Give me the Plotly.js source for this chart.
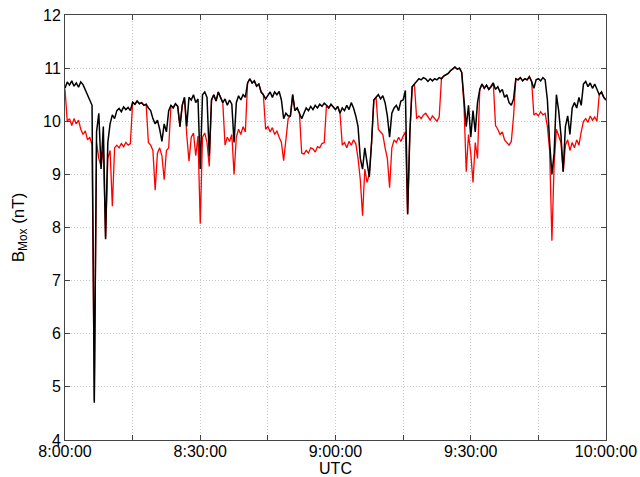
<!DOCTYPE html>
<html>
<head>
<meta charset="utf-8">
<script src="https://cdn.plot.ly/plotly-3.0.1.min.js"></script>
<style>html,body{margin:0;padding:0;background:#fff;}#chart{width:640px;height:477px;}</style>
</head>
<body>
<div id="chart"></div>
<script>
// Sampling: one value every 30 s from 08:00:00 to 10:00:00 (241 samples)
const startTime = "08:00:00";
const sampleSeconds = 30;

// Black trace (B_Mox, black curve)
const blackValues = [
  10.62, 10.74, 10.68, 10.76, 10.66, 10.72, 10.64, 10.74, 10.69, 10.6,
  10.5, 10.42, 10.3, 4.7, 9.8, 10.15, 9.1, 9.9, 7.78, 9.6,
  9.95, 10.12, 10.05, 10.2, 10.24, 10.18, 10.27, 10.22, 10.26, 10.2,
  10.36, 10.32, 10.38, 10.33, 10.35, 10.3, 10.32, 10.25, 10.2, 10.05,
  9.95, 10.02, 9.85, 9.62, 9.95, 9.8, 10.2, 10.3, 10.25, 10.33,
  10.28, 9.9, 10.3, 10.45, 9.9, 10.45, 10.4, 10.5, 10.35, 10.42,
  9.1, 10.5, 10.55, 10.45, 9.35, 10.4, 10.5, 10.38, 10.55, 10.45,
  10.35, 10.42, 10.3, 10.4, 10.32, 9.6, 10.35, 10.48, 10.4, 10.5,
  10.45, 10.72, 10.8, 10.72, 10.76, 10.66, 10.7, 10.55, 10.5, 10.42,
  10.5, 10.55, 10.45, 10.55, 10.5, 10.56, 10.4, 10.05, 10.15, 10.1,
  10.1, 10.5, 10.2, 10.25, 10.15, 10.05, 10.15, 10.25, 10.2, 10.28,
  10.22, 10.3, 10.25, 10.32, 10.28, 10.34, 10.3, 10.25, 10.32, 10.26,
  10.22, 10.28, 10.15, 10.25, 10.2, 10.3, 10.22, 10.35, 10.25, 10.1,
  9.9, 9.3, 9.1, 9.5, 9.2, 8.95, 9.6, 10.4, 10.45, 10.5,
  10.42, 10.48, 10.35, 10.1, 9.7, 10.15, 10.25, 10.3, 10.2, 10.38,
  10.4, 10.58, 8.25, 9.8, 10.65, 10.7, 10.75, 10.8, 10.78, 10.82,
  10.8, 10.75, 10.8, 10.76, 10.8, 10.78, 10.82, 10.8, 10.85, 10.88,
  10.9, 10.95, 10.98, 11.02, 10.98, 11.0, 10.92, 10.4, 9.9, 10.3,
  9.7, 10.2, 9.8, 10.35, 10.6, 10.7, 10.62, 10.68, 10.6, 10.65,
  10.72, 10.6, 10.65, 10.55, 10.6, 10.45, 10.5, 10.35, 10.3, 10.42,
  10.8, 10.78, 10.82, 10.76, 10.8, 10.78, 10.84, 10.75, 10.62, 10.78,
  10.8, 10.76, 10.82, 10.78, 10.4, 9.6, 9.0, 9.4, 10.5, 10.2,
  9.75, 9.05, 9.9, 10.1, 9.75, 10.25, 10.35, 10.25, 10.45, 10.3,
  10.7, 10.75, 10.65, 10.72, 10.62, 10.7, 10.6, 10.5, 10.55, 10.45,
  10.4
];

// Red trace (B_Mox, red curve)
const redValues = [
  10.6, 10.0, 10.05, 9.92, 10.05, 9.95, 10.02, 9.85, 9.75, 9.82,
  9.65, 9.7, 9.55, 4.75, 9.6, 9.3, 9.15, 9.5, 7.8, 9.3,
  9.45, 8.4, 9.5, 9.55, 9.5, 9.58, 9.52, 9.6, 9.55, 9.58,
  10.36, 10.32, 10.38, 10.33, 10.35, 10.3, 10.32, 9.6, 9.55, 9.45,
  8.7, 9.4, 9.5, 9.35, 8.9, 9.45, 9.5, 10.3, 10.25, 10.33,
  10.28, 9.9, 10.3, 10.45, 9.75, 9.25, 9.7, 9.78, 9.35, 9.72,
  8.07, 9.7, 9.78, 9.6, 9.15, 10.4, 10.5, 10.38, 10.55, 10.45,
  10.35, 9.55, 9.7, 9.62, 9.75, 9.0, 9.7, 9.85, 9.75, 9.9,
  9.8, 10.72, 10.8, 10.72, 10.76, 10.66, 10.7, 10.55, 10.5, 9.85,
  9.9, 9.8, 9.88, 9.75, 9.82, 9.7, 9.6, 9.26, 9.7, 10.05,
  10.1, 10.5, 10.2, 10.25, 10.15, 9.4, 9.38, 9.45, 9.4, 9.5,
  9.48, 9.42, 9.52, 9.5, 9.58, 9.6, 10.3, 10.25, 10.32, 10.26,
  10.22, 10.28, 10.15, 9.55, 9.6, 9.5, 9.62, 9.55, 9.65, 9.58,
  9.3, 8.9, 8.22, 9.1, 8.85, 9.0, 9.6, 10.4, 10.45, 9.85,
  9.8, 9.75, 9.5, 9.3, 8.75, 9.5, 9.65, 9.6, 9.7, 9.62,
  9.72, 9.8, 8.25, 9.8, 10.65, 10.7, 10.05, 10.1, 10.05, 10.12,
  10.15, 10.08, 10.02, 10.1, 10.05, 10.0, 10.08, 10.8, 10.85, 10.88,
  10.9, 10.95, 10.98, 11.02, 10.98, 11.0, 10.92, 10.3, 9.05, 9.75,
  9.4, 8.85, 9.6, 9.3, 10.6, 10.7, 10.62, 10.68, 10.6, 10.65,
  10.72, 9.92, 9.85, 9.75, 9.8, 9.65, 9.6, 9.55, 9.62, 10.1,
  10.8, 10.78, 10.82, 10.76, 10.8, 10.78, 10.84, 10.75, 10.12, 10.15,
  10.1, 10.18, 10.12, 10.15, 9.9, 9.45, 7.75, 9.2, 9.85, 9.7,
  9.6, 9.05, 9.55, 9.65, 9.45, 9.6, 9.5, 9.65, 9.55, 9.8,
  10.0, 10.05, 9.98, 10.1, 10.02, 10.08, 10.0, 10.5, 10.55, 10.45,
  10.4
];

// Axis ticks: labelled every 30 min, minor ticks/grid every 15 min
const xTickTimes = ["08:00:00", "08:30:00", "09:00:00", "09:30:00", "10:00:00"];
const xTickLabels = ["8:00:00", "8:30:00", "9:00:00", "9:30:00", "10:00:00"];
const xMinorTimes = ["08:15:00", "08:45:00", "09:15:00", "09:45:00"];
const yTickValues = [4, 5, 6, 7, 8, 9, 10, 11, 12];

const day = "2020-01-01 ";
function pad(n) { return (n < 10 ? "0" : "") + n; }
function timeSeries(n) {
  const p = startTime.split(":").map(Number);
  const s0 = p[0] * 3600 + p[1] * 60 + p[2];
  const out = [];
  for (let i = 0; i < n; i++) {
    const s = s0 + i * sampleSeconds;
    out.push(day + pad(Math.floor(s / 3600)) + ":" + pad(Math.floor((s % 3600) / 60)) + ":" + pad(s % 60));
  }
  return out;
}
const xBlack = timeSeries(blackValues.length);
const xRed = timeSeries(redValues.length);

const font = "Liberation Sans, Arial, Helvetica, sans-serif";
const gridColor = "#c6c6c6";
const gridDash = "1px,2px";

const traces = [
  {x: xRed, y: redValues, type: "scatter", mode: "lines", line: {color: "#ff0000", width: 1.3}, hoverinfo: "skip"},
  {x: xBlack, y: blackValues, type: "scatter", mode: "lines", line: {color: "#000000", width: 1.5}, hoverinfo: "skip"}
];

const layout = {
  width: 640, height: 477,
  margin: {l: 65, r: 34, t: 15, b: 37},
  paper_bgcolor: "#ffffff", plot_bgcolor: "#ffffff",
  showlegend: false,
  font: {family: font, size: 16, color: "#000"},
  xaxis: {
    type: "date",
    range: [day + "08:00:00", day + "10:00:00"],
    tickmode: "array",
    tickvals: xTickTimes.map(t => day + t),
    ticktext: xTickLabels,
    ticks: "inside", ticklen: 5, tickcolor: "#444",
    ticklabelstandoff: -3,
    minor: {tickmode: "array", tickvals: xMinorTimes.map(t => day + t), ticks: "inside", ticklen: 5, tickcolor: "#444",
            showgrid: true, gridcolor: gridColor, griddash: gridDash, gridwidth: 1},
    showline: true, linecolor: "#444", linewidth: 1, mirror: "ticks",
    showgrid: true, gridcolor: gridColor, griddash: gridDash, gridwidth: 1,
    zeroline: false,
    tickfont: {family: font, size: 16, color: "#000"},
    title: {text: "UTC", font: {family: font, size: 16, color: "#000"}, standoff: 0},
    automargin: false
  },
  yaxis: {
    range: [4, 12],
    tickmode: "array",
    tickvals: yTickValues,
    ticktext: yTickValues.map(String),
    ticks: "inside", ticklen: 5, tickcolor: "#444",
    showline: true, linecolor: "#444", linewidth: 1, mirror: "ticks",
    showgrid: true, gridcolor: gridColor, griddash: gridDash, gridwidth: 1,
    zeroline: false,
    tickfont: {family: font, size: 16, color: "#000"},
    title: {text: "B<sub>Mox</sub> (nT)", font: {family: font, size: 17, color: "#000"}, standoff: 14},
    automargin: false
  }
};

Plotly.newPlot("chart", traces, layout, {staticPlot: true, displayModeBar: false});
</script>
</body>
</html>
